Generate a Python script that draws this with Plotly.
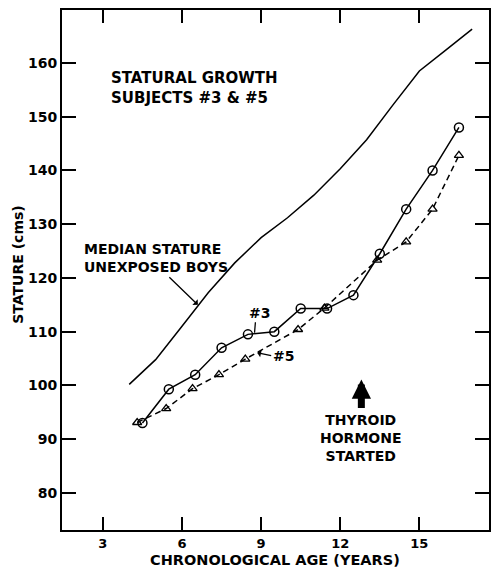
import plotly.graph_objects as go

# median stature, unexposed boys
median_age = [4, 5, 6, 7, 8, 9, 10, 11, 12, 13, 14, 15, 16, 17]
median_cm = [100.2, 104.8, 111, 117.3, 122.8, 127.5, 131.2, 135.4, 140.3, 145.7, 152.2, 158.5, 162.4, 166.3]

# subject #3 (circles, solid)
s3_age = [4.5, 5.5, 6.5, 7.5, 8.5, 9.5, 10.5, 11.5, 12.5, 13.5, 14.5, 15.5, 16.5]
s3_cm = [93, 99.3, 102, 107, 109.5, 110, 114.3, 114.3, 116.8, 124.5, 132.8, 140, 148]

# subject #5 (triangles, dashed)
s5_age = [4.3, 5.4, 6.4, 7.4, 8.4, 10.4, 11.4, 13.4, 14.5, 15.5, 16.5]
s5_cm = [93.1, 95.7, 99.4, 102, 104.9, 110.4, 114.4, 123.3, 126.7, 132.8, 142.8]

x_ticks = [3, 6, 9, 12, 15]
y_ticks = [80, 90, 100, 110, 120, 130, 140, 150, 160]

FONT = "DejaVu Sans"


def f(size):
    return dict(family=FONT, size=size, color="black", weight="bold")


fig = go.Figure()
fig.add_trace(go.Scatter(x=median_age, y=median_cm, mode="lines",
                         line=dict(color="black", width=1.5)))
fig.add_trace(go.Scatter(x=s3_age, y=s3_cm, mode="lines+markers",
                         line=dict(color="black", width=1.5),
                         marker=dict(symbol="circle-open", size=9, color="black",
                                     line=dict(width=1.5))))
fig.add_trace(go.Scatter(x=s5_age, y=s5_cm, mode="lines+markers",
                         line=dict(color="black", width=1.5, dash="6px,4px"),
                         marker=dict(symbol="triangle-up-open", size=8, color="black",
                                     line=dict(width=1.3))))

# labels inside the plot
fig.add_annotation(x=3.23, y=155.4, xanchor="left", yanchor="middle", align="left",
                   showarrow=False, font=f(15),
                   text="STATURAL GROWTH<br>SUBJECTS #3 &amp; #5")
fig.add_annotation(x=2.21, y=123.7, xanchor="left", yanchor="middle", align="left",
                   showarrow=False, font=f(14),
                   text="MEDIAN STATURE<br>UNEXPOSED BOYS")
fig.add_annotation(x=6.6, y=115.0, ax=-30, ay=-29, showarrow=True, arrowhead=1,
                   arrowwidth=1.3, arrowcolor="black", text="")
fig.add_annotation(x=8.95, y=113.4, showarrow=False, font=f(14), text="#3")
fig.add_annotation(x=8.75, y=109.8, ax=1, ay=-12, showarrow=True, arrowhead=0,
                   arrowwidth=1.3, arrowcolor="black", text="")
fig.add_annotation(x=8.85, y=106.1, ax=14, ay=3, showarrow=True, arrowhead=1,
                   arrowwidth=1.3, arrowcolor="black", text="#5", xanchor="left",
                   font=f(14))
# thyroid hormone started
fig.add_annotation(x=12.8, y=101.1, ax=0, ay=30, showarrow=True, arrowhead=2,
                   arrowwidth=7, arrowsize=0.55, arrowcolor="black", text="")
fig.add_annotation(x=12.8, y=90.2, showarrow=False, font=f(14),
                   text="THYROID<br>HORMONE<br>STARTED")

# axis titles
fig.add_annotation(x=0.4977, y=-0.0585, xref="paper", yref="paper", showarrow=False,
                   yanchor="middle", font=f(14.5), text="CHRONOLOGICAL AGE (YEARS)")
fig.add_annotation(x=-0.102, y=0.511, xref="paper", yref="paper", showarrow=False,
                   textangle=-90, xanchor="center", yanchor="middle", font=f(14),
                   text="STATURE (cms)")

fig.update_layout(
    width=483, height=560,
    margin=dict(l=54, r=0, t=0, b=38),
    plot_bgcolor="white", paper_bgcolor="white",
    showlegend=False,
    font=f(14),
)

fig.update_xaxes(range=[1.45, 17.64], tickvals=x_ticks, ticks="inside", ticklen=13,
                 tickwidth=2, tickcolor="black", showline=True, linecolor="black",
                 linewidth=2, mirror="ticks", showgrid=False, zeroline=False,
                 tickfont=f(13))
fig.update_yaxes(range=[73.1, 169.85], tickvals=y_ticks, ticks="inside", ticklen=14,
                 tickwidth=2, tickcolor="black", showline=True, linecolor="black",
                 linewidth=2, mirror="ticks", showgrid=False, zeroline=False,
                 tickfont=f(14))

fig.write_html("out.html")
